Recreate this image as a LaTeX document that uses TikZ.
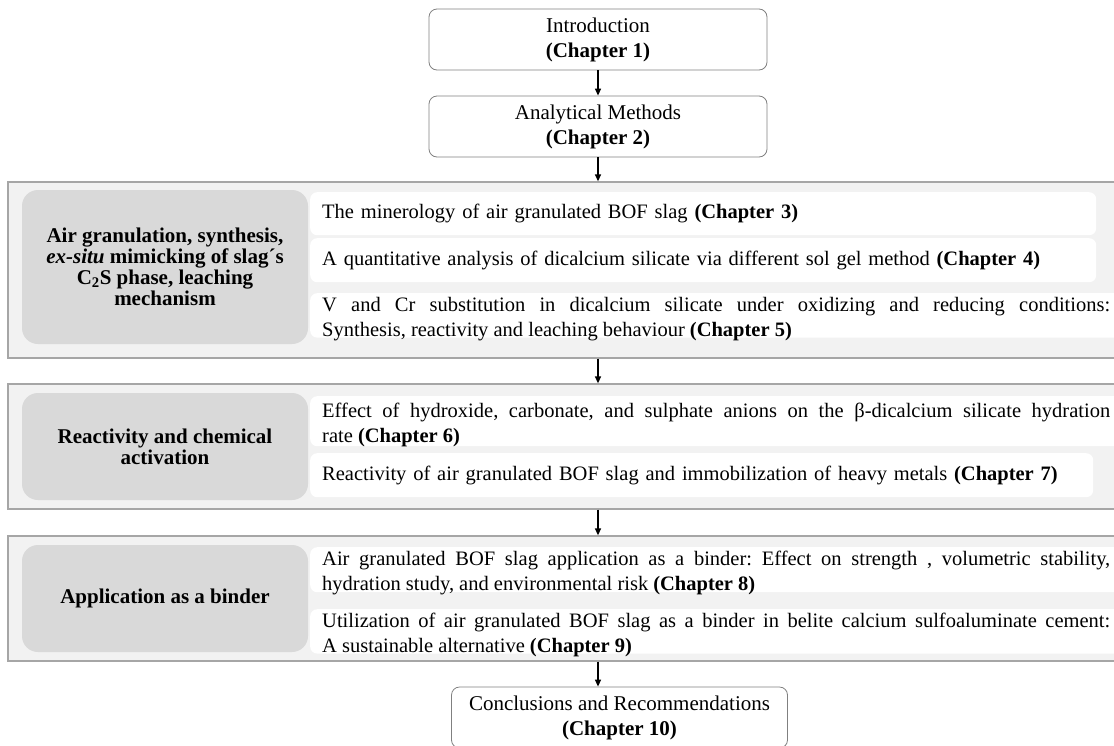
\documentclass[tikz,border=0pt]{standalone}
\usepackage{fontspec}
\setmainfont{Liberation Serif}
\usetikzlibrary{arrows.meta}
\definecolor{framefill}{HTML}{F2F2F2}
\definecolor{frameline}{HTML}{A6A6A6}
\definecolor{topicfill}{HTML}{D9D9D9}
\definecolor{chapline}{HTML}{808080}

\tikzset{
  chapbox/.style={draw=chapline,line width=.8pt,fill=white,rounded corners=8pt,
    align=center,minimum width=338pt,minimum height=61pt,inner sep=0pt,
    font=\fontsize{21}{25}\selectfont},
  block/.style={draw=frameline,line width=1.3pt,fill=framefill,inner sep=0pt,
    minimum width=1117pt},
  topic/.style={fill=topicfill,rounded corners=16pt,align=center,
    minimum width=286pt,inner sep=0pt,font=\fontsize{21}{21}\selectfont\bfseries},
  item/.style={fill=white,rounded corners=7pt,anchor=north west,inner xsep=12pt,
    inner ysep=0pt,align=justify,font=\fontsize{20.5}{25}\selectfont\frenchspacing},
  twoline/.style={inner ysep=-3.5pt},
  arr/.style={-{Triangle[length=7pt,width=6pt]},line width=1.3pt},
}
\newcommand{\lowstrut}{\rule{0pt}{22pt}}

\begin{document}
\begin{tikzpicture}[x=1pt,y=-1pt]
  \useasboundingbox (0,0) rectangle (1114,745);

  % opening chapters
  \node[chapbox] (intro) at (598,39.5) {Introduction\\\textbf{(Chapter 1)}};
  \node[chapbox] (meth) at (598,126.5) {Analytical Methods\\\textbf{(Chapter 2)}};

  % three thematic blocks
  \node[block,minimum height=176pt] (blockA) at (566.5,270) {};
  \node[block,minimum height=125pt] (blockB) at (566.5,446.5) {};
  \node[block,minimum height=125pt] (blockC) at (566.5,598.5) {};

  \node[topic,minimum height=154pt] (topicA) at (165,267)
    {Air granulation, synthesis,\\\textit{ex-situ} mimicking of slag´s\\C\textsubscript{2}S phase, leaching\\mechanism};
  \node[topic,minimum height=107pt] (topicB) at (165,446.5)
    {Reactivity and chemical\\activation};
  \node[topic,minimum height=107pt] (topicC) at (165,598.5)
    {Application as a binder};

  \node[item,align=left,text width=762pt,minimum height=43pt] (ch3) at (310,192)
    {The minerology of air granulated BOF slag \textbf{(Chapter 3)}};
  \node[item,align=left,text width=762pt,minimum height=44pt] (ch4) at (310,238)
    {A quantitative analysis of dicalcium silicate via different sol gel method \textbf{(Chapter 4)}};
  \node[item,twoline,text width=788pt,minimum height=44pt] (ch5) at (310,293)
    {\lowstrut V and Cr substitution in dicalcium silicate under oxidizing and reducing conditions:\linebreak
     Synthesis, reactivity and leaching behaviour \textbf{(Chapter 5)}};

  \node[item,twoline,text width=788pt,minimum height=50pt] (ch6) at (310,396)
    {\lowstrut Effect of hydroxide, carbonate, and sulphate anions on the β-dicalcium silicate hydration\linebreak
     rate \textbf{(Chapter 6)}};
  \node[item,align=left,text width=759pt,minimum height=44pt] (ch7) at (310,453)
    {Reactivity of air granulated BOF slag and immobilization of heavy metals \textbf{(Chapter 7)}};

  \node[item,twoline,text width=788pt,minimum height=45pt] (ch8) at (310,547)
    {\lowstrut Air granulated BOF slag application as a binder: Effect on strength , volumetric stability,\linebreak
     hydration study, and environmental risk \textbf{(Chapter 8)}};
  \node[item,twoline,text width=788pt,minimum height=43pt] (ch9) at (310,609)
    {\lowstrut Utilization of air granulated BOF slag as a binder in belite calcium sulfoaluminate cement:\linebreak
     A sustainable alternative \textbf{(Chapter 9)}};

  % closing chapter
  \node[chapbox,minimum width=336pt] (concl) at (619.5,717.5)
    {Conclusions and Recommendations\\\textbf{(Chapter 10)}};

  \draw[arr] (intro) -- (meth);
  \draw[arr] (meth) -- (meth.south |- blockA.north);
  \draw[arr] (meth.south |- blockA.south) -- (meth.south |- blockB.north);
  \draw[arr] (meth.south |- blockB.south) -- (meth.south |- blockC.north);
  \draw[arr] (meth.south |- blockC.south) -- (meth.south |- concl.north);
\end{tikzpicture}
\end{document}
